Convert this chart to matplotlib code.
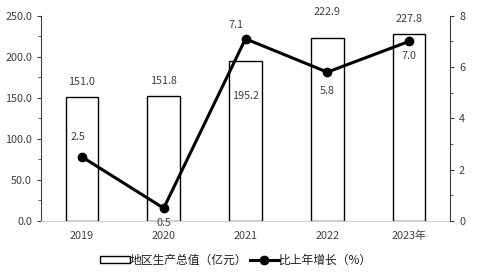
import matplotlib
matplotlib.use('Agg')
import matplotlib.pyplot as plt
from matplotlib.ticker import MultipleLocator, FormatStrFormatter

plt.rcParams['font.family'] = ['Noto Sans CJK SC', 'DejaVu Sans']

years = ['2019', '2020', '2021', '2022', '2023年']
gdp = [151.0, 151.8, 195.2, 222.9, 227.8]
growth = [2.5, 0.5, 7.1, 5.8, 7.0]

txt = '#404040'
fs = 7.8

fig = plt.figure(figsize=(4.82, 2.79), dpi=100)
ax = fig.add_axes([41/482, 1 - 221/279, 409/482, 205.3/279])
x = list(range(len(years)))

ax.bar(x, gdp, width=0.4, color='white', edgecolor='black', linewidth=1.0, label='地区生产总值（亿元）', zorder=2)
ax.set_xlim(-0.5, 4.5)
ax.yaxis.set_major_locator(MultipleLocator(50))
ax.yaxis.set_minor_locator(MultipleLocator(25))
ax.yaxis.set_major_formatter(FormatStrFormatter('%.1f'))
ax.set_ylim(0, 250)
ax.set_xticks(x)
ax.set_xticklabels(years)
ax.tick_params(axis='x', length=0, labelsize=fs, colors=txt, pad=7)
ax.tick_params(axis='y', which='both', direction='out', labelsize=fs, labelcolor=txt, color='#404040')
ax.tick_params(axis='y', which='major', length=3)
ax.tick_params(axis='y', which='minor', length=2)
for s in ['top', 'right']:
    ax.spines[s].set_visible(False)
ax.spines['bottom'].set_color('#d0d0d0')
ax.spines['left'].set_color('#404040')

# bar labels (offsets in points)
boffs = [7.5, 7.5, -22, 15, 7]
for i, v in enumerate(gdp):
    dy = boffs[i]
    ax.annotate('%.1f' % v, (i, v), xytext=(0, dy), textcoords='offset points', ha='center',
                va='bottom' if dy > 0 else 'top', fontsize=fs, color=txt)

ax2 = ax.twinx()
ax2.plot(x, growth, color='black', linewidth=2.2, marker='o', markersize=6, label='比上年增长（%）', zorder=3)
ax2.yaxis.set_major_locator(MultipleLocator(2))
ax2.yaxis.set_minor_locator(MultipleLocator(1))
ax2.set_ylim(0, 8)
ax2.tick_params(axis='y', which='both', direction='out', labelsize=fs, labelcolor=txt, color='#404040')
ax2.tick_params(axis='y', which='major', length=3)
ax2.tick_params(axis='y', which='minor', length=2)
for s in ['top', 'left', 'bottom']:
    ax2.spines[s].set_visible(False)
ax2.spines['right'].set_color('#404040')

goffs = [(-3, 11), (0, -7), (-7, 6), (0, -10), (0, -7)]
for i, v in enumerate(growth):
    dx, dy = goffs[i]
    ax2.annotate('%.1f' % v, (i, v), xytext=(dx, dy), textcoords='offset points', ha='center',
                 va='bottom' if dy > 0 else 'top', fontsize=fs, color=txt)

h1, l1 = ax.get_legend_handles_labels()
h2, l2 = ax2.get_legend_handles_labels()
fig.legend(h1 + h2, l1 + l2, loc='center', bbox_to_anchor=(0.49, 1 - 260/279), ncol=2, frameon=False,
           fontsize=8.5, handlelength=2.5, handleheight=0.6, handletextpad=0.0, columnspacing=0.2,
           labelcolor='#202020')

fig.savefig('out.png', dpi=100)
